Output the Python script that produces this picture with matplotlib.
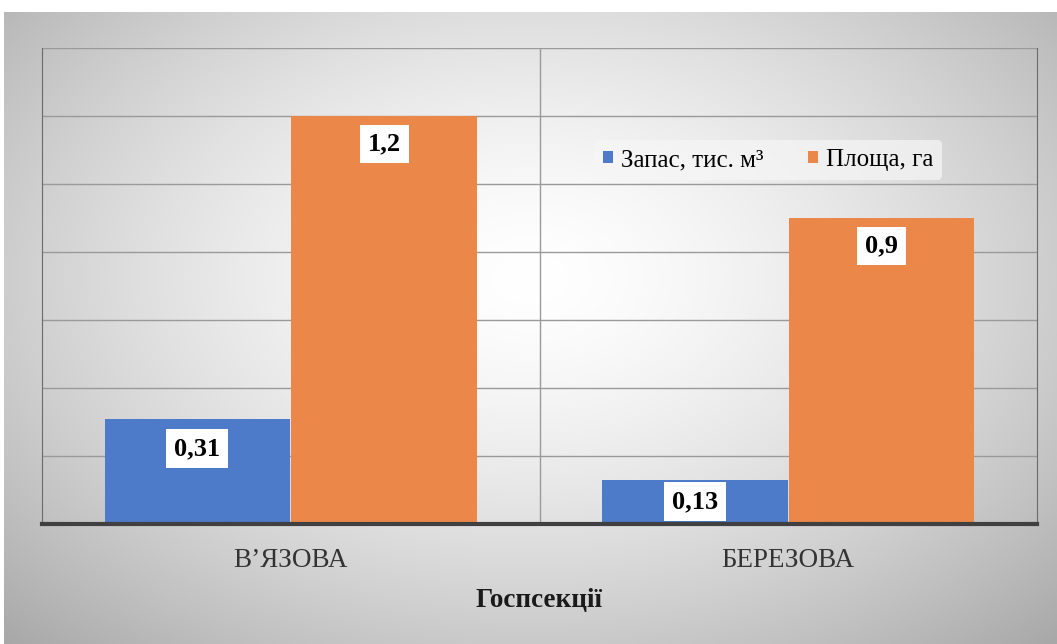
import numpy as np
import matplotlib
matplotlib.use("Agg")
import matplotlib.pyplot as plt

categories = ["В’ЯЗОВА", "БЕРЕЗОВА"]
series_names = ["Запас, тис. м³", "Площа, га"]
zapas = [0.31, 0.13]
plosha = [1.2, 0.9]
zapas_labels = ["0,31", "0,13"]
plosha_labels = ["1,2", "0,9"]
xlabel = "Госпсекції"

BLUE = "#4d7bca"
ORANGE = "#eb8849"
SERIF = ["Liberation Serif", "DejaVu Serif"]

W, H = 1057, 644
fig = plt.figure(figsize=(W / 100, H / 100), dpi=100, facecolor="white")

# gradient background frame
bg = fig.add_axes([4 / W, 0, 1 - 4 / W, 1 - 12 / H])
bg.set_axis_off()
yy, xx = np.mgrid[0:1:300j, 0:1:500j]
r = np.sqrt(((xx - 0.5) / 0.72) ** 2 + ((yy - 0.42) / 0.8) ** 2)
val = 1.0 - 0.34 * np.clip(r, 0, 1) ** 1.5
img = np.dstack([val, val, val])
bg.imshow(img, extent=[0, 1, 0, 1], aspect="auto", origin="upper", zorder=0)
bg.set_xlim(0, 1)
bg.set_ylim(0, 1)

ax = fig.add_axes([42 / W, (H - 524) / H, (1037 - 42) / W, (524 - 48) / H])
ax.patch.set_alpha(0)
x = np.arange(len(categories))
bw = 0.373
b1 = ax.bar(x - bw / 2 - 0.001, zapas, bw, color=BLUE, zorder=3, edgecolor="none")
b2 = ax.bar(x + bw / 2 + 0.001, plosha, bw, color=ORANGE, zorder=3, edgecolor="none")

ax.set_xlim(-0.5, 1.5)
ax.set_ylim(0, 1.4)
ax.set_yticks(np.arange(0, 1.41, 0.2))
ax.yaxis.grid(True, color="#9a9a9a", linewidth=1.0, zorder=1)
ax.axvline(0.5, color="#9a9a9a", linewidth=1.0, zorder=1)
ax.tick_params(axis="y", length=0, labelleft=False)
ax.tick_params(axis="x", length=0, pad=17)
ax.set_xticks(x)
ax.set_xticklabels(categories, fontfamily=SERIF, fontsize=19.5, color="#333333")
ax.set_xlabel(xlabel, fontfamily=SERIF, fontsize=19.5, fontweight="bold", color="#1a1a1a", labelpad=11)

ax.spines["top"].set_visible(False)
ax.spines["left"].set_color("#6a6a6a")
ax.spines["right"].set_color("#6a6a6a")
ax.spines["bottom"].set_color("#404040")
ax.spines["bottom"].set_linewidth(3)
ax.spines["bottom"].set_zorder(4)

box = dict(boxstyle="square,pad=0.3", fc="white", ec="none")
offsets_blue = [-30, -22]
for i, (bar, lab) in enumerate(zip(b1, zapas_labels)):
    ax.annotate(lab, (bar.get_x() + bar.get_width() / 2, bar.get_height()),
                xytext=(0, offsets_blue[i]), textcoords="offset pixels",
                ha="center", va="center", fontfamily=SERIF, fontsize=19,
                fontweight="bold", color="black", zorder=5, bbox=box)
for i, (bar, lab) in enumerate(zip(b2, plosha_labels)):
    ax.annotate(lab, (bar.get_x() + bar.get_width() / 2, bar.get_height()),
                xytext=(0, -28), textcoords="offset pixels",
                ha="center", va="center", fontfamily=SERIF, fontsize=19,
                fontweight="bold", color="black", zorder=5, bbox=box)

leg_x = (768 - 42) / (1037 - 42)
leg_y = (524 - 160) / (524 - 48)
leg = ax.legend([b1, b2], series_names, loc="center", bbox_to_anchor=(leg_x, leg_y),
                ncol=2, frameon=True, prop={"family": SERIF, "size": 18},
                handlelength=0.4, handleheight=0.4, handletextpad=0.3,
                columnspacing=1.8, borderpad=0.35)
leg.get_frame().set_facecolor("#f6f6f6")
leg.get_frame().set_edgecolor("none")
leg.get_frame().set_alpha(0.7)

fig.savefig("out.png", dpi=100, facecolor="white")
